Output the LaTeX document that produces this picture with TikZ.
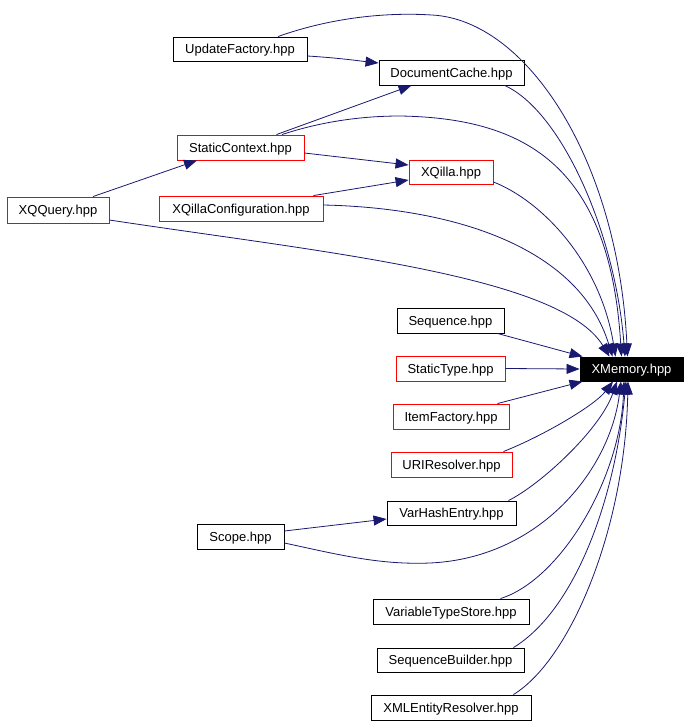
\documentclass[tikz,border=0pt]{standalone}
\usepackage{fontspec}
\setmainfont{Liberation Sans}
\usetikzlibrary{arrows.meta,calc}
\definecolor{edgeblue}{HTML}{191970}
\begin{document}
\begin{tikzpicture}[x=1pt,y=-1pt,
  box/.style={draw=black,line width=0.9pt,inner sep=0pt,text height=9pt,text depth=0pt,
    font=\fontsize{13}{15}\selectfont,align=center},
  redbox/.style={box,draw=red},
  e/.style={draw=edgeblue,line width=0.8pt,-{Triangle[length=13pt,width=10pt]},color=edgeblue}
]
\useasboundingbox (0,0) rectangle (688,724);
% nodes
\node[box,minimum width=134pt,minimum height=24pt] (u) at (240,49) {UpdateFactory.hpp};
\node[box,minimum width=145pt,minimum height=25pt] (dc) at (451.5,72.5) {DocumentCache.hpp};
\node[redbox,minimum width=127pt,minimum height=25pt] (s) at (240.5,147.5) {StaticContext.hpp};
\node[redbox,minimum width=84pt,minimum height=24pt] (xq) at (451,172) {XQilla.hpp};
\node[redbox,minimum width=102pt,minimum height=26pt] (q) at (58,210) {XQQuery.hpp};
\node[redbox,minimum width=164pt,minimum height=25pt] (c) at (241,208.5) {XQillaConfiguration.hpp};
\node[box,fill=black,text=white,minimum width=103pt,minimum height=24pt] (m) at (631.5,369) {XMemory.hpp};
\node[box,minimum width=107pt,minimum height=25pt] (sq) at (450.5,320.5) {Sequence.hpp};
\node[redbox,minimum width=109pt,minimum height=25pt] (st) at (450.5,368.5) {StaticType.hpp};
\node[redbox,minimum width=116pt,minimum height=25pt] (i) at (451,416.5) {ItemFactory.hpp};
\node[redbox,minimum width=121pt,minimum height=25pt] (r) at (451.5,464.5) {URIResolver.hpp};
\node[box,minimum width=129pt,minimum height=24pt] (v) at (451.5,513) {VarHashEntry.hpp};
\node[box,minimum width=87pt,minimum height=25pt] (sc) at (240.5,536.5) {Scope.hpp};
\node[box,minimum width=156pt,minimum height=25pt] (vt) at (451,611.5) {VariableTypeStore.hpp};
\node[box,minimum width=147pt,minimum height=24pt] (sb) at (450.5,660) {SequenceBuilder.hpp};
\node[box,minimum width=160pt,minimum height=25pt] (x) at (451,707.5) {XMLEntityResolver.hpp};
% edges to XMemory from above
\draw[e] ([xshift=38pt]u.north) .. controls (330,18) and (385,12) .. (432,15)
  .. controls (527,20) and (618,160) .. ([xshift=-4pt]m.north);
\draw[e] ([xshift=53pt]dc.south) .. controls (560,110) and (615,230) .. ([xshift=-6.5pt]m.north);
\draw[e] ([xshift=41.5pt]s.north) .. controls (320,122) and (360,116) .. (400,116)
  .. controls (530,118) and (610,170) .. ([xshift=-10pt]m.north);
\draw[e] ([yshift=-10pt]xq.east) .. controls (540,200) and (600,260) .. ([xshift=-16pt]m.north);
\draw[e] ([yshift=3.5pt]c.east) .. controls (460,208) and (580,250) .. ([xshift=-19pt]m.north);
\draw[e] ([yshift=-10pt]q.east) .. controls (320,252) and (560,275) .. ([xshift=-22pt]m.north);
\draw[e] ([xshift=-7pt]sq.south east) -- ([xshift=3pt]m.north west);
% straight
\draw[e] (st.east) -- (m.west);
\draw[e] ([xshift=-12pt]i.north east) -- ([xshift=3pt]m.south west);
% from below
\draw[e] ([xshift=-9pt]r.north east) .. controls (545,435) and (595,405) .. ([xshift=-18.5pt]m.south);
\draw[e] ([xshift=-8pt]v.north east) .. controls (540,485) and (600,430) .. ([xshift=-14.5pt]m.south);
\draw[e] ([yshift=-6.5pt]sc.east) .. controls (340,555) and (380,565) .. (430,563)
  .. controls (540,558) and (610,470) .. ([xshift=-10.5pt]m.south);
\draw[e] ([xshift=-29pt]vt.north east) .. controls (560,580) and (620,480) .. ([xshift=-7.5pt]m.south);
\draw[e] ([xshift=-11pt]sb.north east) .. controls (575,610) and (615,500) .. ([xshift=-5.5pt]m.south);
\draw[e] ([xshift=-18pt]x.north east) .. controls (570,660) and (625,530) .. ([xshift=-3.5pt]m.south);
% other edges
\draw[e] ([yshift=-7pt]u.east) .. controls (340,58) and (360,61) .. ([yshift=9.5pt]dc.west);
\draw[e] ([xshift=36pt]s.north) -- ([xshift=-40pt]dc.south);
\draw[e] ([yshift=-5.5pt]s.east) -- ([yshift=7pt]xq.west);
\draw[e] ([xshift=-10pt]c.north east) -- ([yshift=-8pt]xq.west);
\draw[e] ([xshift=35pt]q.north) -- ([xshift=-43.5pt]s.south);
\draw[e] ([yshift=5.5pt]sc.east) -- ([yshift=-6pt]v.west);
\end{tikzpicture}
\end{document}
